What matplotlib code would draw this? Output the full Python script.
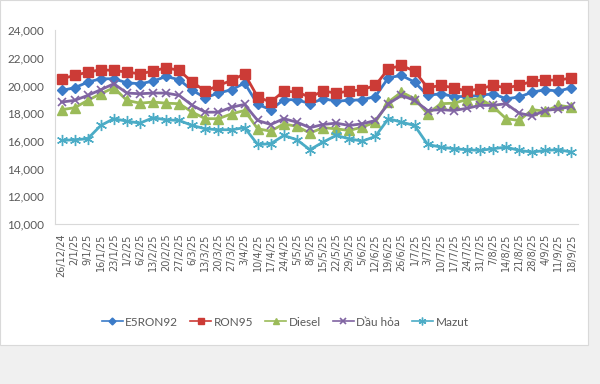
import matplotlib.pyplot as plt
from matplotlib.patches import Rectangle

plt.rcParams['font.family'] = ['Lato', 'DejaVu Sans']

dates = ['26/12/24', '2/1/25', '9/1/25', '16/1/25', '23/1/25', '1/2/25', '6/2/25',
         '13/2/25', '20/2/25', '27/2/25', '6/3/25', '13/3/25', '20/3/25', '27/3/25',
         '3/4/25', '10/4/25', '17/4/25', '24/4/25', '5/5/25', '8/5/25', '15/5/25',
         '22/5/25', '29/5/25', '5/6/25', '12/6/25', '19/6/25', '26/6/25', '1/7/25',
         '3/7/25', '10/7/25', '17/7/25', '24/7/25', '31/7/25', '7/8/25', '14/8/25',
         '21/8/25', '28/8/25', '4/9/25', '11/9/25', '18/9/25']

e5ron92 = [19640, 19830, 20240, 20480, 20480, 20190, 20120, 20310, 20650, 20410,
           19640, 19110, 19450, 19690, 20170, 18630, 18250, 18970, 18970, 18680,
           19040, 18870, 18920, 18970, 19200, 20560, 20720, 20240, 19280, 19400,
           19200, 19200, 19280, 19400, 19040, 19160, 19520, 19690, 19590, 19830]
ron95 = [20480, 20720, 20960, 21130, 21080, 20960, 20840, 21030, 21280, 21080,
         20240, 19590, 20000, 20360, 20840, 19160, 18800, 19590, 19520, 19160,
         19590, 19450, 19590, 19690, 20000, 21200, 21440, 21030, 19830, 20000,
         19830, 19590, 19760, 20000, 19830, 20000, 20310, 20410, 20360, 20560]
diesel = [18250, 18390, 18920, 19400, 19830, 18920, 18720, 18800, 18720, 18680,
          18070, 17600, 17600, 17950, 18190, 16870, 16700, 17230, 17040, 16560,
          16950, 16870, 16750, 16990, 17350, 18800, 19520, 19040, 17950, 18680,
          18720, 18970, 19040, 18480, 17600, 17470, 18250, 18140, 18560, 18430]
dau_hoa = [18800, 18920, 19280, 19690, 20120, 19450, 19400, 19450, 19450, 19280,
           18560, 18070, 18070, 18430, 18630, 17470, 17180, 17600, 17350, 16950,
           17180, 17280, 17110, 17230, 17470, 18680, 19280, 18920, 18190, 18250,
           18190, 18350, 18560, 18560, 18680, 18000, 17800, 18190, 18300, 18480]
mazut = [16030, 16080, 16150, 17110, 17600, 17420, 17280, 17670, 17520, 17470,
         17110, 16870, 16800, 16800, 16950, 15740, 15790, 16390, 16080, 15360,
         15910, 16390, 16150, 15980, 16320, 17600, 17350, 17110, 15740, 15550,
         15430, 15360, 15310, 15430, 15550, 15310, 15190, 15310, 15360, 15190]

fig = plt.figure(figsize=(6, 3.84), dpi=100, facecolor='#f0f0f0')
# white chart area behind the axes
fig.patches.append(Rectangle((0, 1 - 345 / 384), 588 / 600, 345 / 384,
                             transform=fig.transFigure, facecolor='white',
                             edgecolor='#d9d9d9', lw=0.8, zorder=-10))

ax = fig.add_axes([55 / 600, 1 - 224 / 384, 523 / 600, 194 / 384])
ax.set_facecolor('none')

x = range(len(dates))
series = [
    ('E5RON92', e5ron92, '#3b7bc8', dict(marker='D', ms=5)),
    ('RON95', ron95, '#cc3b36', dict(marker='s', ms=7)),
    ('Diesel', diesel, '#9bbb59', dict(marker='^', ms=6.5)),
    ('Dầu hỏa', dau_hoa, '#8064a2', dict(marker='x', ms=6, mew=1.2)),
    ('Mazut', mazut, '#4bacc6', dict(marker=(6, 2, 0), ms=8, mew=1.0)),
]
for name, vals, col, mk in series:
    ax.plot(x, vals, color=col, lw=2, label=name, mfc=col, mec=col, **mk)

ax.set_ylim(10000, 24000)
ax.set_xlim(-0.5, len(dates) - 0.5)
ax.set_yticks(range(10000, 24001, 2000))
ax.set_yticklabels([f'{v:,}' for v in range(10000, 24001, 2000)])
ax.set_xticks(list(x))
ax.set_xticklabels(dates, rotation=90, family='DejaVu Sans')
ax.tick_params(axis='y', length=0, labelsize=8.5, colors='#595959', pad=8)
ax.tick_params(axis='x', length=0, labelsize=7, colors='#595959', pad=7)
for s in ['top', 'right']:
    ax.spines[s].set_visible(False)
for s in ['left', 'bottom']:
    ax.spines[s].set_color('#d9d9d9')

leg = fig.legend(loc='center', bbox_to_anchor=(285 / 600, 1 - 322 / 384), ncol=5,
                 frameon=False, fontsize=8.5, handlelength=1.8, columnspacing=1.0,
                 handletextpad=0.2, labelcolor='#595959', markerscale=0.7)
for h in leg.legend_handles:
    h.set_linewidth(1.2)

fig.savefig('out.png', dpi=100, facecolor=fig.get_facecolor())
